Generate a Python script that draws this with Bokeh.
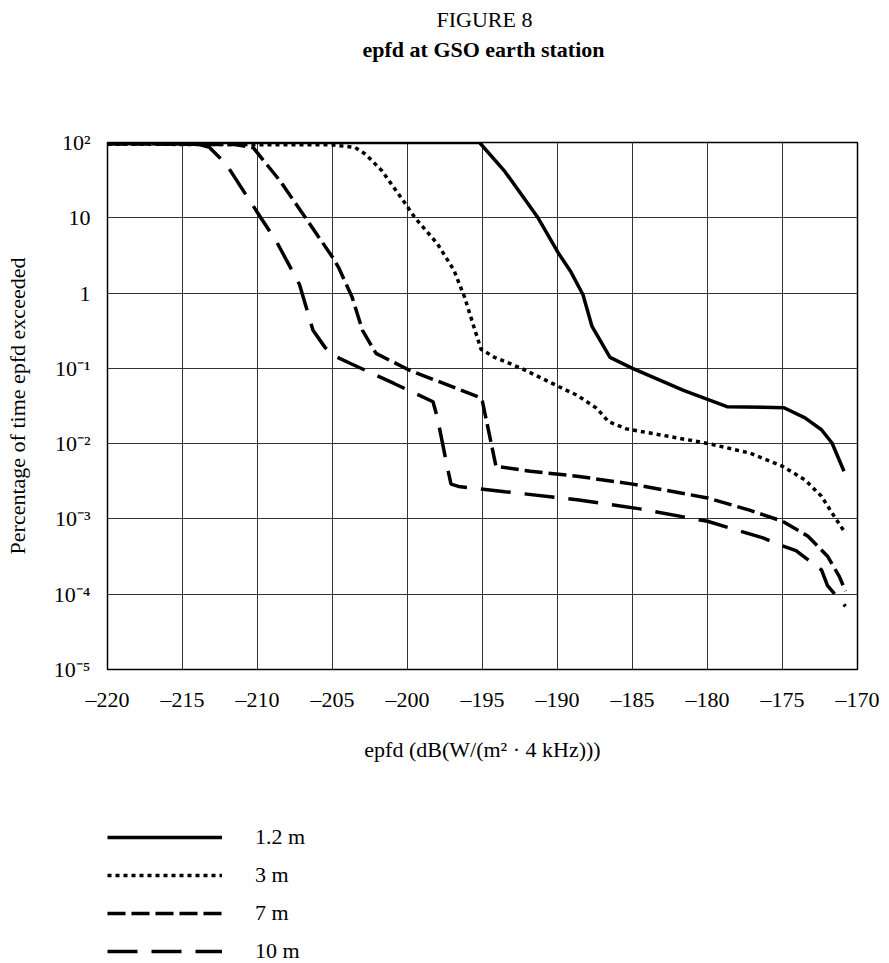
from bokeh.plotting import figure
from bokeh.models import Legend, LegendItem, FixedTicker, Label
from bokeh.layouts import column
from bokeh.embed import file_html
from bokeh.resources import INLINE

# ---- data ----
x_12 = [-220, -195.2, -193.5, -191.3, -189.9, -189.1, -188.3, -187.7, -186.5, -185, -181.6, -178.7,
        -174.9, -173.5, -172.4, -171.7, -170.9]
y_12 = [100, 100, 41, 10, 3.3, 1.9, 0.95, 0.36, 0.14, 0.1, 0.051, 0.031,
        0.030, 0.022, 0.0153, 0.0102, 0.0043]

x_3 = [-220, -205, -203.5, -202.8, -201.7, -200.2, -199.5, -198, -196.9, -196.2, -195.5, -195.1, -194.2,
       -192.4, -189.9, -188.7, -187.4, -186.6, -185.4, -182.1, -179.9, -177.2, -175, -173.5, -172.4,
       -171.7, -170.9]
y_3 = [95, 93, 86, 70, 42, 16, 10, 4.5, 2.0, 0.89, 0.32, 0.18, 0.14,
       0.1, 0.057, 0.044, 0.0296, 0.0196, 0.0157, 0.012, 0.01, 0.0075, 0.005, 0.0033, 0.002,
       0.0012, 0.00069]

x_7 = [-220, -211.5, -210.3, -208.5, -206.8, -205, -204.6, -203.7, -203.0, -202.1, -199.9, -195.3, -195.0,
       -194.6, -194.1, -191.8, -188.7, -185, -180, -177.2, -175, -173.3, -172.0, -171.2, -170.8]
y_7 = [96, 94, 86, 31, 10, 3.0, 2.2, 0.89, 0.32, 0.158, 0.095, 0.042, 0.036,
       0.015, 0.005, 0.0043, 0.0037, 0.0029, 0.0019, 0.00131, 0.00093, 0.00059, 0.00032, 0.00017, 0.00011]

x_10 = [-220, -214, -213.2, -212.1, -210.3, -208.7, -207.2, -206.3, -205.5, -205, -203.8, -200.9, -198.3,
        -198, -197.4, -197.1, -196.6, -193.5, -188.7, -184.5, -180, -176.3, -175.3, -174.1, -172.4, -172,
        -170.8]
y_10 = [97, 95, 86, 52, 14.5, 4.7, 1.3, 0.32, 0.19, 0.15, 0.116, 0.063, 0.036,
        0.0218, 0.0055, 0.0029, 0.0027, 0.0023, 0.0018, 0.00136, 0.00093, 0.00056, 0.00046, 0.00038,
        0.00021, 0.00013, 0.000069]

series_labels = ["1.2 m", "3 m", "7 m", "10 m"]

x_ticks = [-220, -215, -210, -205, -200, -195, -190, -185, -180, -175, -170]
x_tick_labels = ["\u2013220", "\u2013215", "\u2013210", "\u2013205", "\u2013200", "\u2013195",
                 "\u2013190", "\u2013185", "\u2013180", "\u2013175", "\u2013170"]
y_ticks = [1e-5, 1e-4, 1e-3, 1e-2, 1e-1, 1, 10, 100]
y_tick_labels = ["10\u207b\u2075", "10\u207b\u2074", "10\u207b\u00b3", "10\u207b\u00b2",
                 "10\u207b\u00b9", "1", "10", "10\u00b2"]

FONT = "Liberation Serif"
FS = "22px"
W = 889

# ---- header with the two titles ----
HDR_H = 80
hdr = figure(width=W, height=HDR_H, output_backend="svg", toolbar_location=None,
             x_range=(0, 1), y_range=(0, 1), x_axis_location=None, y_axis_location=None,
             min_border=0, title=None)
hdr.outline_line_color = None
hdr.grid.visible = False
hdr.add_layout(Label(x=377, y=HDR_H - 19, x_units="screen", y_units="screen", text="FIGURE 8",
                     text_align="center", text_baseline="alphabetic", text_font=FONT,
                     text_font_size=FS, text_color="black"))
hdr.add_layout(Label(x=376, y=HDR_H - 49, x_units="screen", y_units="screen",
                     text="epfd at GSO earth station",
                     text_align="center", text_baseline="alphabetic", text_font=FONT,
                     text_font_size=FS, text_font_style="bold", text_color="black"))

# ---- main chart ----
p = figure(width=W, height=705, output_backend="svg", toolbar_location=None,
           x_range=(-220, -170), y_range=(1e-5, 100), y_axis_type="log",
           min_border_left=107, min_border_right=32, min_border_top=62, min_border_bottom=116,
           title=None)
p.background_fill_color = "white"
p.border_fill_color = "white"
p.outline_line_color = "black"
p.outline_line_width = 1.5

p.xgrid.ticker = FixedTicker(ticks=x_ticks)
p.ygrid.ticker = FixedTicker(ticks=y_ticks)
for g in (p.xgrid, p.ygrid):
    g.grid_line_color = "#333333"
    g.grid_line_width = 1
    g.grid_line_alpha = 1

p.xaxis.ticker = FixedTicker(ticks=x_ticks)
p.xaxis.major_label_overrides = {t: l for t, l in zip(x_ticks, x_tick_labels)}
p.yaxis.ticker = FixedTicker(ticks=y_ticks)
p.yaxis.major_label_overrides = {t: l for t, l in zip(y_ticks, y_tick_labels)}
for ax in (p.xaxis, p.yaxis):
    ax.axis_line_color = None
    ax.major_tick_line_color = None
    ax.minor_tick_line_color = None
    ax.major_tick_out = 0
    ax.major_tick_in = 0
    ax.minor_tick_out = 0
    ax.minor_tick_in = 0
    ax.major_label_text_font = FONT
    ax.major_label_text_font_size = FS
    ax.major_label_text_color = "black"
    ax.axis_label_text_font = FONT
    ax.axis_label_text_font_size = FS
    ax.axis_label_text_font_style = "normal"
    ax.axis_label_text_color = "black"

p.xaxis.axis_label = "epfd (dB(W/(m\u00b2 \u00b7 4 kHz)))"
p.xaxis.major_label_standoff = 17
p.xaxis.axis_label_standoff = 22
p.yaxis.axis_label = "Percentage of time epfd exceeded"
p.yaxis.major_label_standoff = 17
p.yaxis.axis_label_standoff = 21

styles = [dict(line_dash="solid"), dict(line_dash="4 4"), dict(line_dash="18 6"), dict(line_dash="30 14")]
series = [(x_12, y_12), (x_3, y_3), (x_7, y_7), (x_10, y_10)]
for (xs, ys), st in zip(series, styles):
    p.line(xs, ys, line_color="black", line_width=3.5, **st)

# ---- legend below the chart ----
LEG_H = 963 - HDR_H - 705
leg = figure(width=W, height=LEG_H, output_backend="svg", toolbar_location=None,
             x_range=(0, 1), y_range=(0, 1), x_axis_location=None, y_axis_location=None,
             min_border=0, title=None)
leg.outline_line_color = None
leg.grid.visible = False
items = []
for lab, st in zip(series_labels, styles):
    r = leg.line(x=[float("nan")], y=[float("nan")], line_color="black", line_width=3.5, **st)
    items.append(LegendItem(label=lab, renderers=[r]))
legend = Legend(items=items, orientation="vertical", location=(0, -1),
                glyph_width=115, glyph_height=26, label_height=26, label_standoff=33,
                spacing=12, padding=0, margin=0,
                border_line_color=None, background_fill_alpha=0,
                label_text_font=FONT, label_text_font_size=FS, label_text_color="black")
leg.add_layout(legend, "center")

layout = column(hdr, p, leg, spacing=0)
open("out.html", "w").write(file_html(layout, INLINE))
